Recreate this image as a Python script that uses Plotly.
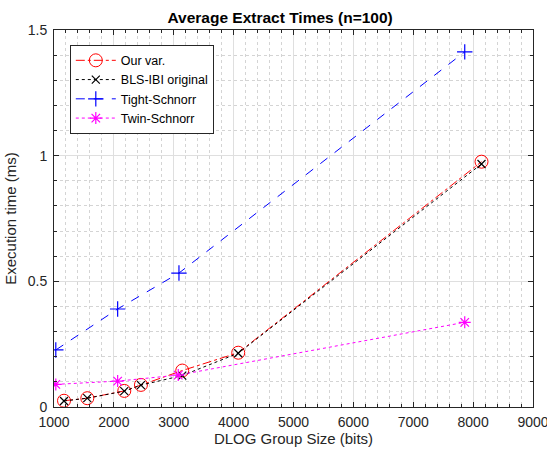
import plotly.graph_objects as go

# Data
ours_x = [1167, 1556, 2174, 2452, 3142, 4077, 8140]
ours_y = [0.025, 0.035, 0.064, 0.088, 0.145, 0.216, 0.976]

bls_x = [1167, 1556, 2174, 2452, 3142, 4077, 8140]
bls_y = [0.024, 0.035, 0.063, 0.087, 0.125, 0.214, 0.967]

tight_x = [1030, 2063, 3087, 7860]
tight_y = [0.227, 0.390, 0.533, 1.413]

twin_x = [1030, 2063, 3075, 7860]
twin_y = [0.090, 0.103, 0.127, 0.337]

x_ticks = [1000, 2000, 3000, 4000, 5000, 6000, 7000, 8000, 9000]
y_ticks = [0, 0.5, 1, 1.5]
y_tick_labels = ["0", "0.5", "1", "1.5"]

FONT = "Liberation Sans, Arial, Helvetica, sans-serif"
TXT = "#262626"

fig = go.Figure()
fig.add_trace(go.Scatter(
    x=ours_x, y=ours_y, name="Our var.", mode="lines+markers",
    line=dict(color="#ff0000", width=1, dash="dashdot"),
    marker=dict(symbol="circle-open", size=13, color="#ff0000", line=dict(width=1))))
fig.add_trace(go.Scatter(
    x=bls_x, y=bls_y, name="BLS-IBI original", mode="lines+markers",
    line=dict(color="#000000", width=1, dash="dot"),
    marker=dict(symbol="x-thin-open", size=8, color="#000000", line=dict(width=1.2, color="#000000"))))
fig.add_trace(go.Scatter(
    x=tight_x, y=tight_y, name="Tight-Schnorr", mode="lines+markers",
    line=dict(color="#0000ff", width=1, dash="dash"),
    marker=dict(symbol="cross-thin-open", size=11, color="#0000ff", line=dict(width=1.2, color="#0000ff"))))
fig.add_trace(go.Scatter(
    x=twin_x, y=twin_y, name="Twin-Schnorr", mode="lines+markers",
    line=dict(color="#ff00ff", width=1, dash="dot"),
    marker=dict(symbol="asterisk-open", size=10, color="#ff00ff", line=dict(width=1.2, color="#ff00ff"))))

axis_common = dict(
    showline=True, linecolor=TXT, linewidth=1, mirror="ticks",
    ticks="inside", ticklen=5, tickcolor=TXT,
    showgrid=True, gridcolor="#dfdfdf", gridwidth=1,
    zeroline=False, automargin=False,
    tickfont=dict(family=FONT, size=14, color=TXT),
)

fig.update_layout(
    width=547, height=454,
    paper_bgcolor="white", plot_bgcolor="white",
    margin=dict(l=54, r=14, t=30, b=47),
    font=dict(family=FONT, color=TXT),
    title=dict(text="<b>Average Extract Times (n=100)</b>", x=0.512, xanchor="center",
               y=0.962, yanchor="middle", font=dict(family=FONT, size=15.5, color="black")),
    xaxis=dict(range=[1000, 9000], tickvals=x_ticks, ticklabeloverflow="allow",
               ticklabelstandoff=2,
               title=dict(text="DLOG Group Size (bits)", font=dict(family=FONT, size=15, color=TXT), standoff=4),
               minor=dict(dtick=200, tick0=1000, showgrid=True, griddash="dot", gridcolor="#d4d4d4",
                          ticks="inside", ticklen=3, tickcolor=TXT),
               **axis_common),
    yaxis=dict(range=[0, 1.5], tickvals=y_ticks, ticktext=y_tick_labels,
               ticklabelstandoff=3,
               title=dict(text="Execution time (ms)", font=dict(family=FONT, size=15, color=TXT), standoff=7),
               minor=dict(dtick=0.1, tick0=0, showgrid=True, griddash="dot", gridcolor="#d4d4d4",
                          ticks="inside", ticklen=3, tickcolor=TXT),
               **axis_common),
    legend=dict(x=0.033, y=0.961, xanchor="left", yanchor="top",
                bgcolor="white", bordercolor=TXT, borderwidth=1,
                font=dict(family=FONT, size=12.5, color="black"),
                itemwidth=40, tracegroupgap=0),
    showlegend=True,
)

fig.write_html("out.html")
